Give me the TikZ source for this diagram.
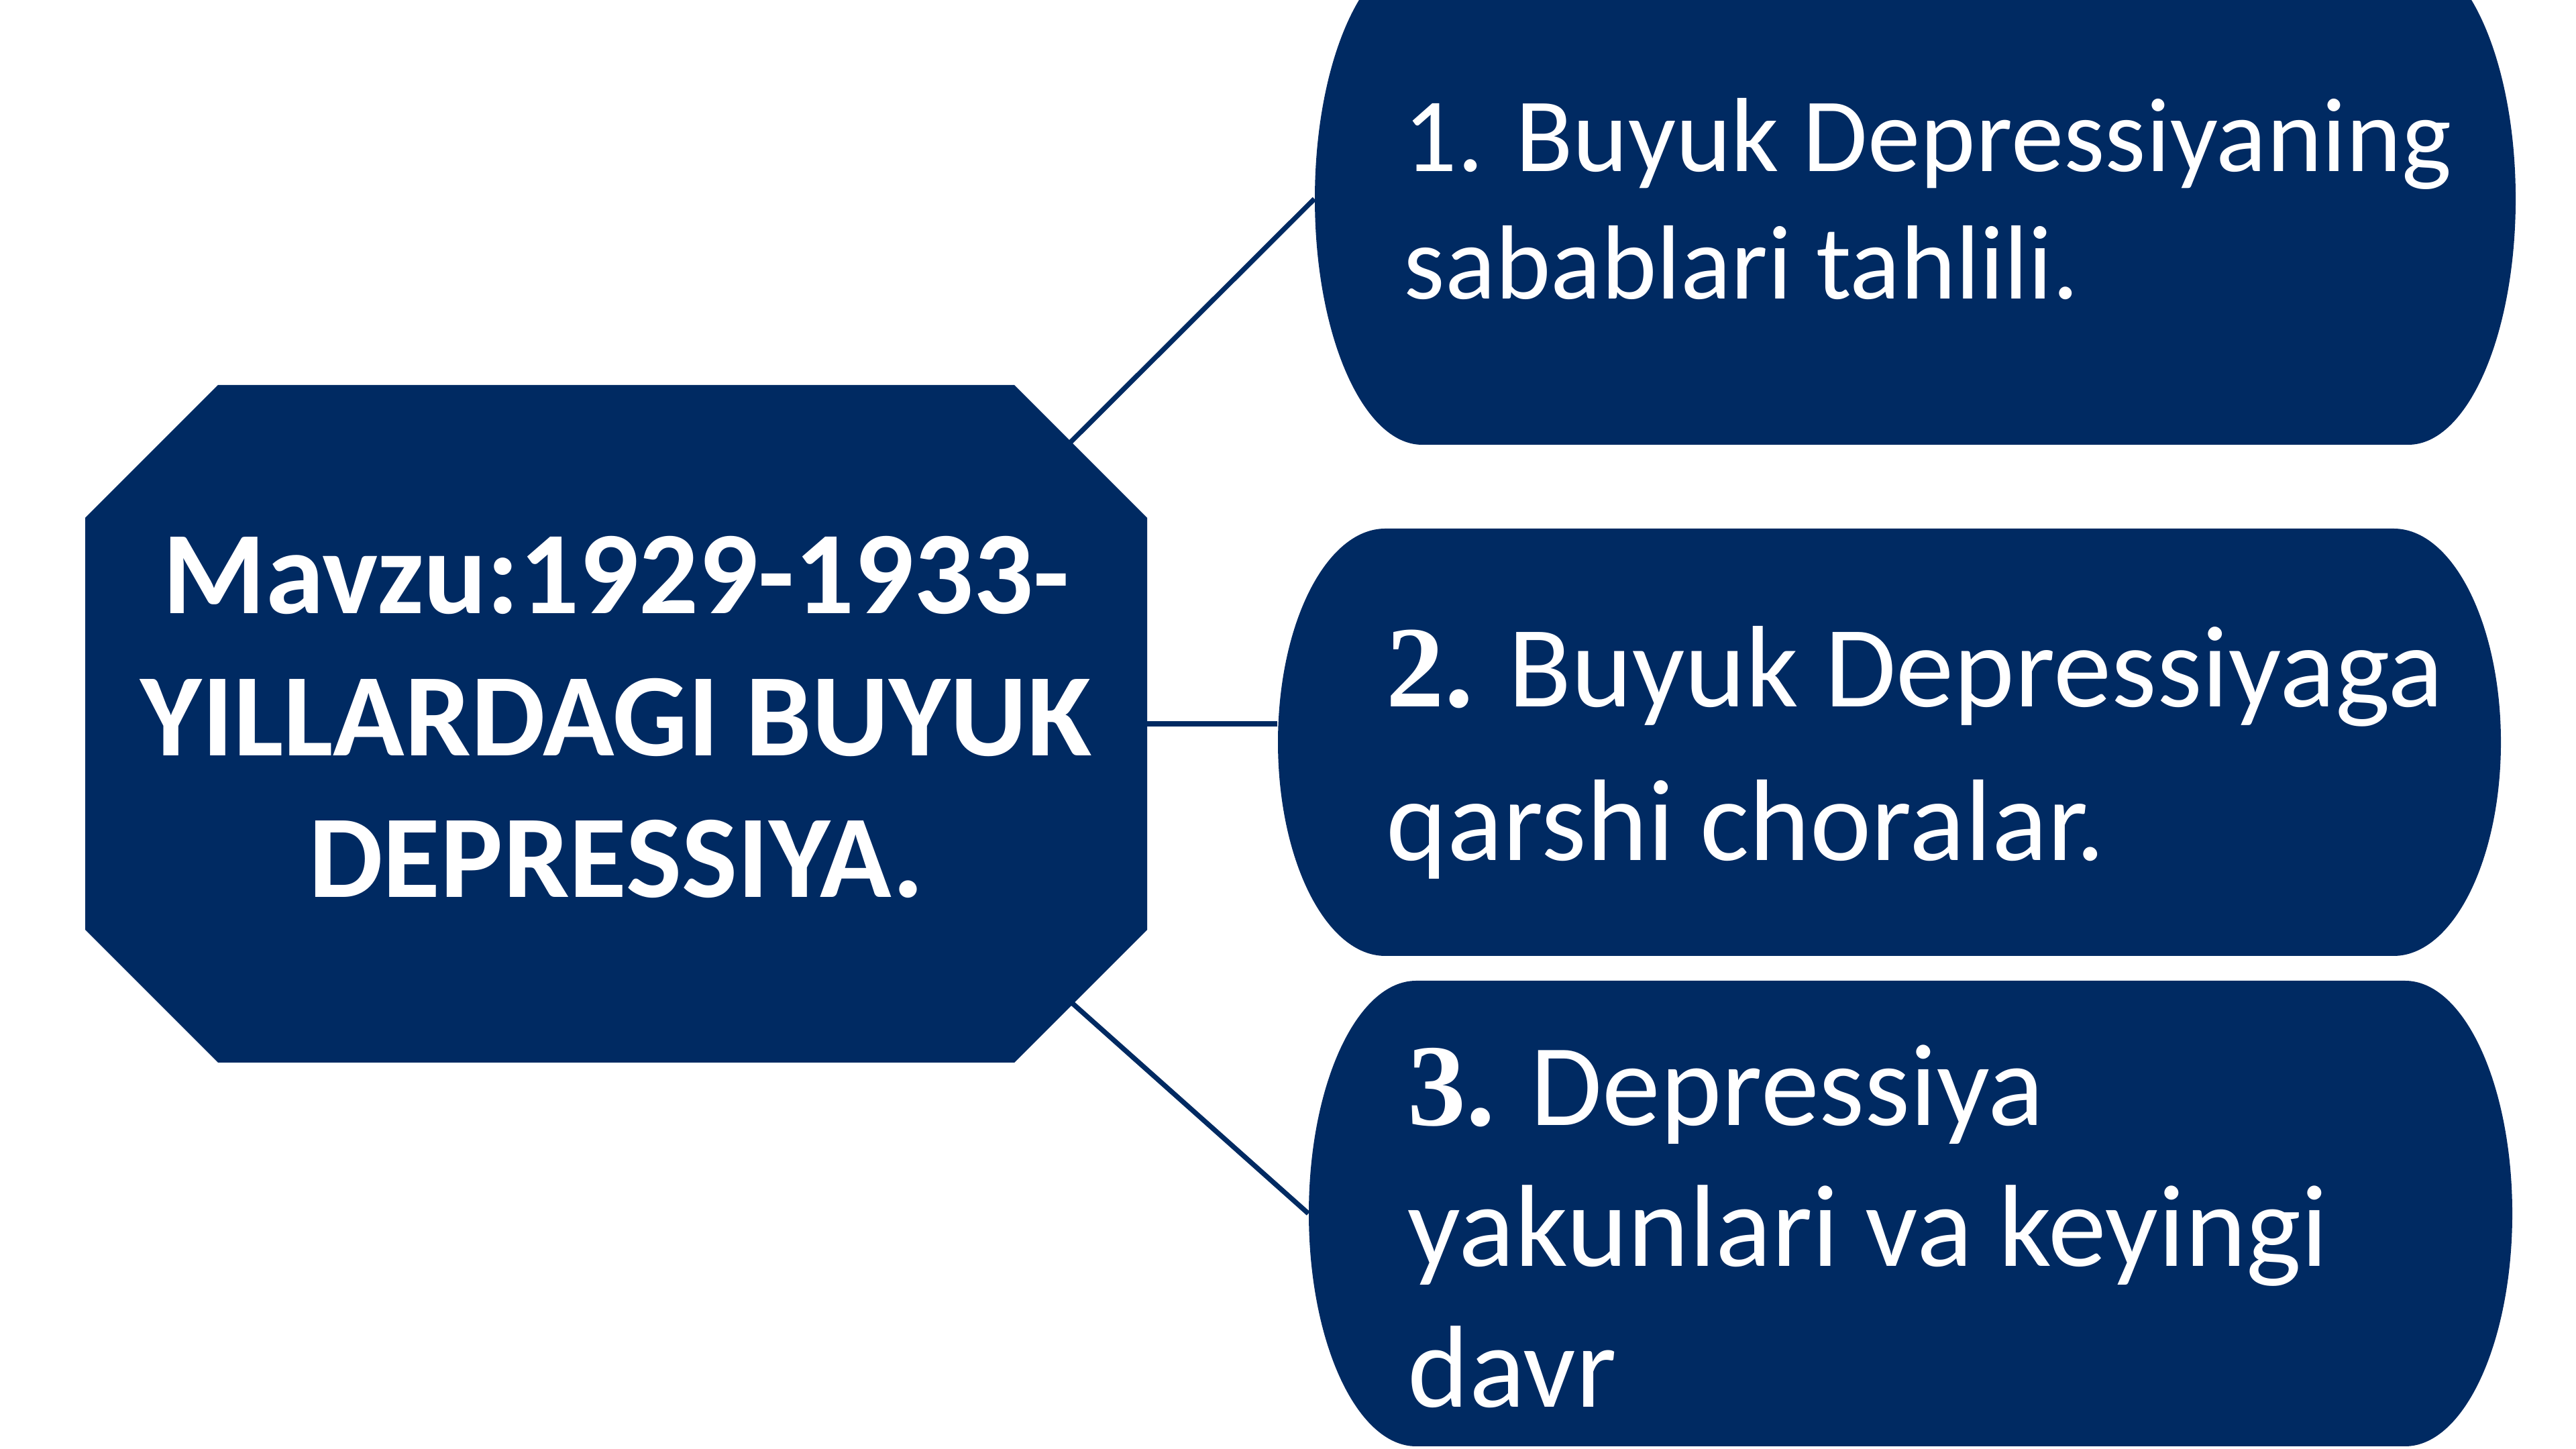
\documentclass[tikz,border=0pt]{standalone}
\usepackage{fontspec}
\setmainfont{Carlito}
\newfontfamily\tnr{Liberation Serif}
\definecolor{navy}{HTML}{002A62}

% box with half-elliptic ends: name, left, bottom, right, top
\newcommand{\pillbox}[5]{%
  \fill[navy] (#2+1.6,#5) -- (#4-1.6,#5)
    arc[start angle=90, end angle=-90, x radius=1.6, y radius={(#5-#3)/2}]
    -- (#2+1.6,#3)
    arc[start angle=270, end angle=90, x radius=1.6, y radius={(#5-#3)/2}] -- cycle;
  \node[pill, minimum width={(#4-#2)*1cm}, minimum height={(#5-#3)*1cm}]
    (#1) at ({(#2+#4)/2},{(#3+#5)/2}) {};%
}

\tikzset{
  topic/.style={text=white, align=center, inner sep=0pt, anchor=base,
    font=\bfseries\fontsize{50}{60.3}\selectfont},
  pill/.style={rectangle, inner sep=0pt},
  itemtext/.style={text=white, align=left, inner sep=0pt, anchor=base west},
  link/.style={draw=navy, line width=2.1pt}
}

\begin{document}
\begin{tikzpicture}
  \useasboundingbox (0,0) rectangle (38.4,21.6);
  \clip (0,0) rectangle (38.4,21.6);
  \fill[white] (0,0) rectangle (38.4,21.6);

  % topic octagon
  \fill[navy] (1.27,7.74) -- (1.27,13.88) -- (3.25,15.86) -- (15.12,15.86)
    -- (17.10,13.88) -- (17.10,7.74) -- (15.12,5.76) -- (3.25,5.76) -- cycle;
  \node[topic] (topic) at (9.185,8.22) {Mavzu:1929-1933-\\YILLARDAGI BUYUK\\DEPRESSIYA.};
  \coordinate (topicNE) at (15.95,15.00);
  \coordinate (topicE) at (17.10,10.81);
  \coordinate (topicSE) at (15.99,6.64);

  % the three boxes
  \pillbox{causes}{19.60}{14.97}{37.50}{22.30}
  \pillbox{measures}{19.05}{7.35}{37.28}{13.72}
  \pillbox{results}{19.51}{0.04}{37.45}{6.98}

  \node[itemtext, font=\fontsize{44.7}{54.3}\selectfont] (causestext) at (20.92,17.14)
    {1. Buyuk Depressiyaning\\sabablari tahlili.};
  \node[itemtext, font=\fontsize{49.2}{65.4}\selectfont] (measurestext) at (20.66,8.77)
    {{\tnr\bfseries 2.} Buyuk Depressiyaga\\qarshi choralar.};
  \node[itemtext, font=\fontsize{49.5}{59.8}\selectfont] (resultstext) at (20.98,0.62)
    {{\tnr\bfseries 3.} Depressiya\\yakunlari va keyingi\\davr};

  % connectors
  \draw[link] (topicNE) -- (causes.west);
  \draw[link] (topicE) -- (topicE -| measures.west);
  \draw[link] (topicSE) -- (results.west);
\end{tikzpicture}
\end{document}
